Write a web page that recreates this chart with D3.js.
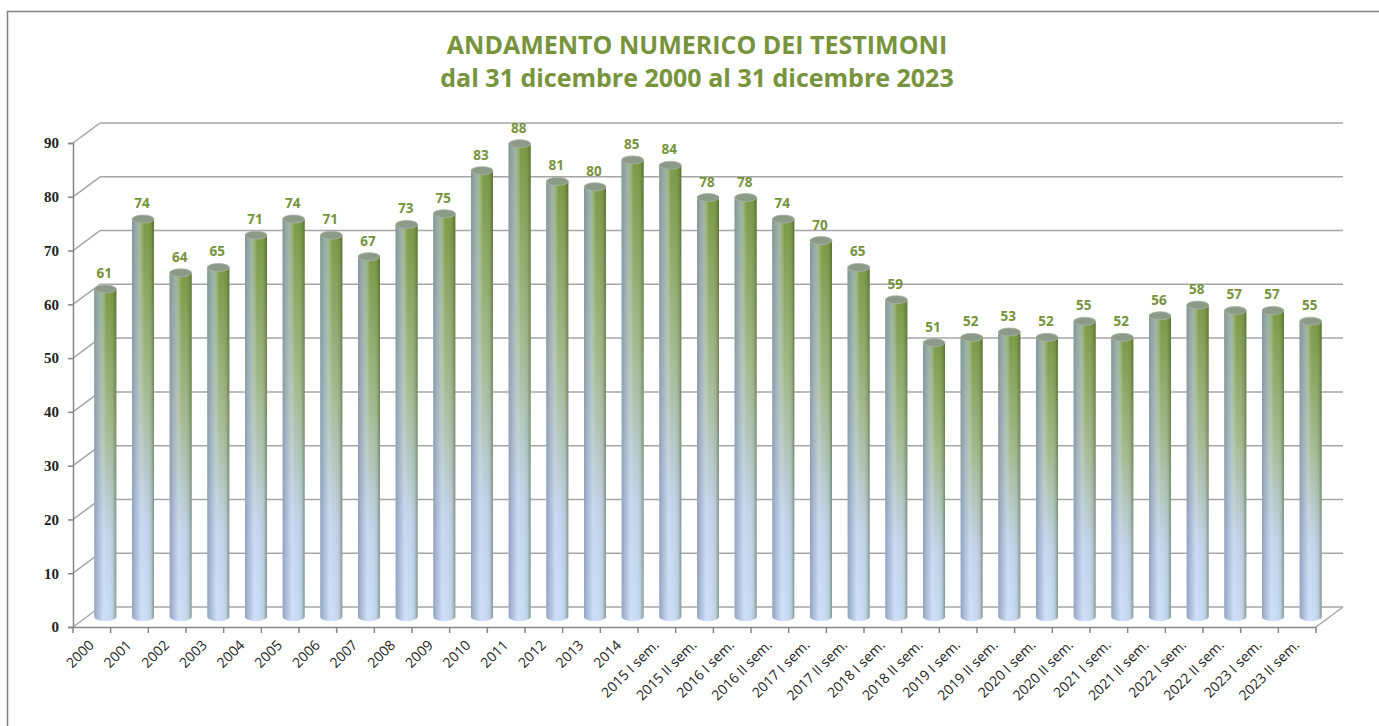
<!DOCTYPE html>
<html>
<head>
<meta charset="utf-8">
<script src="https://cdn.jsdelivr.net/npm/d3@7"></script>
<style>
  body { margin: 0; background: #fff; }
  svg { display: block; }
</style>
</head>
<body>
<svg id="chart"></svg>
<script>
const categories = [
  "2000", "2001", "2002", "2003", "2004", "2005", "2006", "2007", "2008",
  "2009", "2010", "2011", "2012", "2013", "2014",
  "2015 I sem.", "2015 II sem.", "2016 I sem.", "2016 II sem.",
  "2017 I sem.", "2017 II sem.", "2018 I sem.", "2018 II sem.",
  "2019 I sem.", "2019 II sem.", "2020 I sem.", "2020 II sem.",
  "2021 I sem.", "2021 II sem.", "2022 I sem.", "2022 II sem.",
  "2023 I sem.", "2023 II sem."
];
const testimoni = [
  61, 74, 64, 65, 71, 74, 71, 67, 73, 75, 83, 88, 81, 80, 85,
  84, 78, 78, 74, 70, 65, 59, 51, 52, 53, 52, 55, 52, 56, 58, 57, 57, 55
];
const yTicks = [0, 10, 20, 30, 40, 50, 60, 70, 80, 90];
const titleLines = [
  "ANDAMENTO NUMERICO DEI TESTIMONI",
  "dal 31 dicembre 2000 al 31 dicembre 2023"
];

const W = 1379, H = 726;
const green = "#77933c";
const depth = { dx: 27, dy: -20 };

const svg = d3.select("#chart").attr("width", W).attr("height", H);

// frame
svg.append("rect")
  .attr("x", 7.5).attr("y", 11.5)
  .attr("width", W + 10).attr("height", H + 10)
  .attr("fill", "none").attr("stroke", "#7f7f7f").attr("stroke-width", 1.5);

// title
svg.append("g")
  .selectAll("text")
  .data(titleLines)
  .join("text")
  .attr("x", 697)
  .attr("y", (d, i) => 54 + i * 33)
  .attr("text-anchor", "middle")
  .attr("font-family", "'Open Sans', sans-serif")
  .attr("font-weight", "bold")
  .attr("font-size", 25)
  .attr("fill", green)
  .text((d) => d);

const x = d3.scaleBand().domain(categories).range([73, 1316]);
const y = d3.scaleLinear().domain([0, 90]).range([627, 143]);

const defs = svg.append("defs");
const vg = defs.append("linearGradient")
  .attr("id", "cylV").attr("x1", 0).attr("y1", 0).attr("x2", 0).attr("y2", 1);
vg.append("stop").attr("offset", "0%").attr("stop-color", "#7a9944");
vg.append("stop").attr("offset", "40%").attr("stop-color", "#a4b98e");
vg.append("stop").attr("offset", "75%").attr("stop-color", "#c4d4ee");
vg.append("stop").attr("offset", "100%").attr("stop-color", "#cadcf7");

const hg = defs.append("linearGradient")
  .attr("id", "cylH").attr("x1", 0).attr("y1", 0).attr("x2", 1).attr("y2", 0);
hg.append("stop").attr("offset", "0%").attr("stop-color", "#8494b0").attr("stop-opacity", 0.8);
hg.append("stop").attr("offset", "30%").attr("stop-color", "#b4c4e0").attr("stop-opacity", 0.6);
hg.append("stop").attr("offset", "55%").attr("stop-color", "#ffffff").attr("stop-opacity", 0);
hg.append("stop").attr("offset", "85%").attr("stop-color", "#3c5a1c").attr("stop-opacity", 0.1);
hg.append("stop").attr("offset", "100%").attr("stop-color", "#2c4214").attr("stop-opacity", 0.45);

// walls: back gridlines, left side, floor
const grid = svg.append("g").attr("stroke", "#a6a6a6").attr("stroke-width", 1.5).attr("fill", "none");
grid.selectAll(".back")
  .data(yTicks)
  .join("line")
  .attr("x1", 73 + depth.dx).attr("x2", 1316 + depth.dx)
  .attr("y1", (d) => y(d) + depth.dy).attr("y2", (d) => y(d) + depth.dy);
grid.selectAll(".side")
  .data(yTicks)
  .join("line")
  .attr("x1", 73).attr("x2", 73 + depth.dx)
  .attr("y1", (d) => y(d)).attr("y2", (d) => y(d) + depth.dy);
grid.append("line")
  .attr("x1", 1316).attr("y1", y(0))
  .attr("x2", 1316 + depth.dx).attr("y2", y(0) + depth.dy);

// axes
const axisColor = "#868686";
const yAxis = svg.append("g")
  .attr("transform", "translate(73,0)")
  .call(d3.axisLeft(y).tickValues(yTicks).tickSize(5).tickPadding(9));
yAxis.select(".domain").attr("stroke", axisColor).attr("stroke-width", 1.5);
yAxis.selectAll(".tick line").attr("stroke", axisColor).attr("stroke-width", 1.5);
yAxis.selectAll(".tick text")
  .attr("font-family", "'Liberation Serif', serif")
  .attr("font-weight", "bold")
  .attr("font-size", 15)
  .attr("fill", "#222");

const xAxis = svg.append("g")
  .attr("transform", `translate(0,${y(0)})`)
  .call(d3.axisBottom(x).tickSize(0).tickFormat(""));
xAxis.select(".domain").attr("stroke", axisColor).attr("stroke-width", 1.5);
xAxis.selectAll(".xt")
  .data(categories.concat(["end"]))
  .join("line")
  .attr("class", "xt")
  .attr("x1", (d, i) => 73 + i * x.step()).attr("x2", (d, i) => 73 + i * x.step())
  .attr("y1", 0).attr("y2", 6)
  .attr("stroke", axisColor).attr("stroke-width", 1.5);

svg.append("g")
  .selectAll("text")
  .data(categories)
  .join("text")
  .attr("transform", (d) => `translate(${x(d) + x.bandwidth() / 2 + 3},${y(0) + 19}) rotate(-45)`)
  .attr("text-anchor", "end")
  .attr("font-family", "'Open Sans', sans-serif")
  .attr("font-size", 14)
  .attr("fill", "#222")
  .text((d) => d);

// cylinders
const bw = 22, ry = 4;
const cx = (i) => x(categories[i]) + x.bandwidth() / 2 + depth.dx / 2;
const by = (v) => y(v) + depth.dy / 2;

const bars = svg.append("g")
  .selectAll("g")
  .data(testimoni)
  .join("g");

const bodyPath = (d, i) => {
  const l = cx(i) - bw / 2, r = cx(i) + bw / 2;
  const t = by(d), b = by(0);
  return `M${l},${t} L${l},${b} A${bw / 2},${ry} 0 0 0 ${r},${b} L${r},${t} Z`;
};
bars.append("path").attr("d", bodyPath).attr("fill", "url(#cylV)");
bars.append("path").attr("d", bodyPath).attr("fill", "url(#cylH)");
bars.append("ellipse")
  .attr("cx", (d, i) => cx(i))
  .attr("cy", (d) => by(d))
  .attr("rx", bw / 2).attr("ry", ry)
  .attr("fill", "#8c9a88")
  .attr("stroke", "#aab5a6").attr("stroke-width", 0.8);

// labels
svg.append("g")
  .selectAll("text")
  .data(testimoni)
  .join("text")
  .attr("x", (d, i) => cx(i) - 1)
  .attr("y", (d) => by(d) - 11)
  .attr("text-anchor", "middle")
  .attr("font-family", "'Open Sans', sans-serif")
  .attr("font-weight", "bold")
  .attr("font-size", 13.5)
  .attr("fill", green)
  .text((d) => d);
</script>
</body>
</html>
